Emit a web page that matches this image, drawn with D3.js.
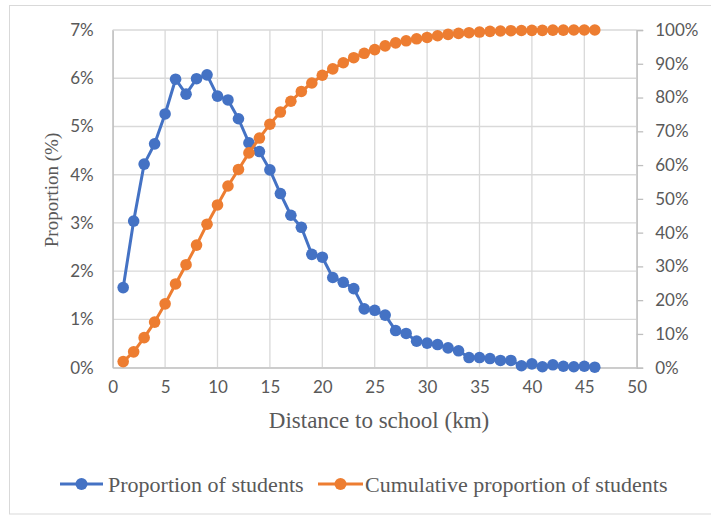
<!DOCTYPE html>
<html>
<head>
<meta charset="utf-8">
<script src="https://cdn.jsdelivr.net/npm/d3@7"></script>
<style>
  html, body { margin: 0; padding: 0; background: #fff; }
  svg { display: block; }
</style>
</head>
<body>
<svg id="chart" width="711" height="516"></svg>
<script>
const distance = [1,2,3,4,5,6,7,8,9,10,11,12,13,14,15,16,17,18,19,20,21,22,23,24,25,26,27,28,29,30,31,32,33,34,35,36,37,38,39,40,41,42,43,44,45,46];
const proportion = [1.66,3.04,4.22,4.64,5.26,5.98,5.67,5.99,6.07,5.63,5.55,5.16,4.66,4.48,4.10,3.61,3.16,2.91,2.35,2.29,1.87,1.77,1.64,1.22,1.19,1.09,0.77,0.71,0.55,0.51,0.48,0.41,0.35,0.21,0.21,0.19,0.15,0.15,0.04,0.08,0.02,0.06,0.03,0.02,0.03,0.01];
const cumulative = [1.8,4.7,8.9,13.5,18.9,24.8,30.5,36.3,42.5,48.2,53.8,58.7,63.6,68.0,72.1,75.7,78.9,81.8,84.3,86.6,88.5,90.3,91.8,93.1,94.2,95.3,96.2,96.8,97.4,97.8,98.3,98.7,99.0,99.2,99.4,99.6,99.7,99.8,99.85,99.9,99.9,99.95,99.95,100,100,100];
const xTicks = [0,5,10,15,20,25,30,35,40,45,50];
const leftTicks = [0,1,2,3,4,5,6,7];
const rightTicks = [0,10,20,30,40,50,60,70,80,90,100];
const seriesNames = ["Proportion of students", "Cumulative proportion of students"];

const BLUE = "#4472C4", ORANGE = "#ED7D31", GRID = "#D9D9D9", AXIS = "#BFBFBF", TEXT = "#595959";
const L = 112.7, R = 636.7, T = 30, B = 367.7;

const svg = d3.select("#chart");
svg.append("rect").attr("x", 9.5).attr("y", 5.5).attr("width", 702).attr("height", 508.5)
  .attr("fill", "#fff").attr("stroke", "#D9D9D9").attr("stroke-width", 1);

const x = d3.scaleLinear().domain([0, 50]).range([L, R]);
const yL = d3.scaleLinear().domain([0, 7]).range([B, T]);
const yR = d3.scaleLinear().domain([0, 100]).range([B, T]);

// gridlines
const g = svg.append("g");
g.selectAll(".hg").data(leftTicks).join("line")
  .attr("x1", L).attr("x2", R).attr("y1", d => yL(d)).attr("y2", d => yL(d))
  .attr("stroke", GRID).attr("stroke-width", 1.3);
g.selectAll(".vg").data(xTicks).join("line")
  .attr("x1", d => x(d)).attr("x2", d => x(d)).attr("y1", T).attr("y2", B)
  .attr("stroke", GRID).attr("stroke-width", 1.3);

// axes
const fontTick = "Lato, Carlito, 'Open Sans', sans-serif";
const xAxis = svg.append("g").attr("transform", `translate(0,${B})`)
  .call(d3.axisBottom(x).tickValues(xTicks).tickSize(0).tickPadding(13).tickFormat(d3.format("d")));
const yAxisL = svg.append("g").attr("transform", `translate(${L},0)`)
  .call(d3.axisLeft(yL).tickValues(leftTicks).tickSize(0).tickPadding(19).tickFormat(d => d + "%"));
const yAxisR = svg.append("g").attr("transform", `translate(${R},0)`)
  .call(d3.axisRight(yR).tickValues(rightTicks).tickSize(6.5).tickPadding(12).tickFormat(d => d + "%"));
[xAxis, yAxisL, yAxisR].forEach(a => {
  a.select(".domain").attr("stroke", AXIS).attr("stroke-width", 1.3);
  a.selectAll(".tick line").attr("stroke", AXIS).attr("stroke-width", 1.3);
  a.selectAll("text").attr("fill", TEXT).style("font-family", fontTick).style("font-size", "17px");
});
yAxisL.select(".domain").attr("stroke", AXIS);

// series
const lineL = d3.line().x((d, i) => x(distance[i])).y(d => yL(d));
const lineR = d3.line().x((d, i) => x(distance[i])).y(d => yR(d));

svg.append("path").datum(proportion).attr("d", lineL)
  .attr("fill", "none").attr("stroke", BLUE).attr("stroke-width", 3).attr("stroke-linejoin", "round");
svg.append("g").selectAll("circle").data(proportion).join("circle")
  .attr("cx", (d, i) => x(distance[i])).attr("cy", d => yL(d)).attr("r", 5.8).attr("fill", BLUE);

svg.append("path").datum(cumulative).attr("d", lineR)
  .attr("fill", "none").attr("stroke", ORANGE).attr("stroke-width", 3).attr("stroke-linejoin", "round");
svg.append("g").selectAll("circle").data(cumulative).join("circle")
  .attr("cx", (d, i) => x(distance[i])).attr("cy", d => yR(d)).attr("r", 5.8).attr("fill", ORANGE);

// titles
const fontSerif = "'Liberation Serif', 'Times New Roman', serif";
svg.append("text").attr("x", 379).attr("y", 427.5).attr("text-anchor", "middle")
  .attr("fill", TEXT).style("font-family", fontSerif).style("font-size", "23px")
  .text("Distance to school (km)");
svg.append("text").attr("transform", "translate(58,190) rotate(-90)").attr("text-anchor", "middle")
  .attr("fill", TEXT).style("font-family", fontSerif).style("font-size", "19px")
  .text("Proportion (%)");

// legend
const legend = [
  { name: seriesNames[0], color: BLUE, x1: 60, x2: 103, tx: 108 },
  { name: seriesNames[1], color: ORANGE, x1: 318, x2: 363, tx: 365 }
];
const lg = svg.append("g").selectAll("g").data(legend).join("g");
lg.append("line").attr("x1", d => d.x1).attr("x2", d => d.x2).attr("y1", 484).attr("y2", 484)
  .attr("stroke", d => d.color).attr("stroke-width", 3);
lg.append("circle").attr("cx", d => (d.x1 + d.x2) / 2).attr("cy", 484).attr("r", 6).attr("fill", d => d.color);
lg.append("text").attr("x", d => d.tx).attr("y", 491.5).attr("fill", TEXT)
  .style("font-family", fontSerif).style("font-size", "22px").text(d => d.name);
</script>
</body>
</html>
